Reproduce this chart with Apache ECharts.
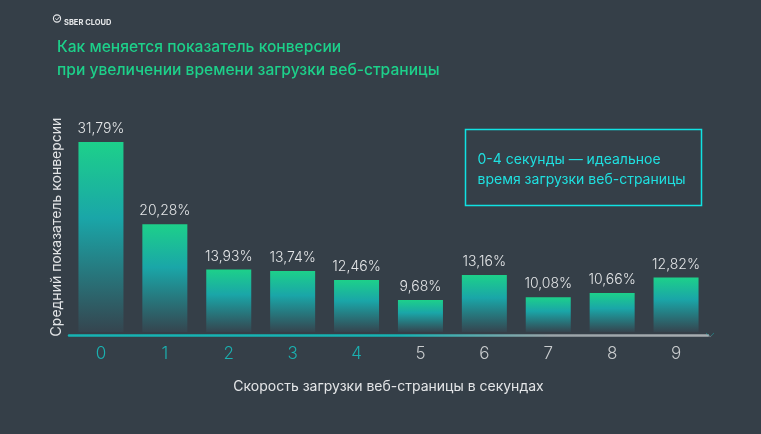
<!DOCTYPE html>
<html lang="ru">
<head>
  <meta charset="UTF-8">
  <title>Показатель конверсии</title>
  <script src="https://cdn.jsdelivr.net/npm/echarts@6/dist/echarts.min.js"></script>
  <style>
    html, body { margin: 0; padding: 0; background: #353f48; }
  </style>
</head>
<body>
<div id="main" style="width:761px;height:434px;"></div>
<script>
  // секунды загрузки
  const seconds = ['0', '1', '2', '3', '4', '5', '6', '7', '8', '9'];
  // средний показатель конверсии, %
  const conversion = [31.79, 20.28, 13.93, 13.74, 12.46, 9.68, 13.16, 10.08, 10.66, 12.82];
  const idealMax = 4; // 0-4 секунды подсвечены

  const fontMain = 'Inter, "Noto Sans", sans-serif';
  const green = '#1dd08a';
  const teal = '#1bb0b0';
  const grey = '#c9ccce';

  let chart = echarts.init(document.getElementById('main'));
  let option = {
    backgroundColor: '#353f48',
    title: [
      {
        text: 'Как меняется показатель конверсии\nпри увеличении времени загрузки веб-страницы',
        left: 52,
        top: 31,
        textStyle: {
          color: green,
          fontFamily: fontMain,
          fontSize: 15.6,
          fontWeight: 500,
          lineHeight: 23
        }
      },
      {
        text: 'SBER CLOUD',
        left: 59,
        top: 14,
        textStyle: {color: '#e6e8ea', fontFamily: fontMain, fontSize: 7.5, fontWeight: 700}
      }
    ],
    graphic: [
      {type: 'circle', shape: {cx: 57, cy: 18.5, r: 3.6}, style: {fill: 'none', stroke: '#e6e8ea', lineWidth: 1.1}},
      {type: 'polyline', shape: {points: [[55.3, 18.5], [56.8, 19.9], [59.5, 17]]}, style: {fill: 'none', stroke: '#e6e8ea', lineWidth: 1}},
      {
        type: 'group',
        left: 463,
        top: 127,
        children: [
          {type: 'rect', shape: {x: 0, y: 0, width: 236, height: 76}, style: {fill: 'none', stroke: '#10e2e2', lineWidth: 1.5}},
          {
            type: 'text',
            x: 12, y: 20,
            style: {
              text: '0-4 секунды — идеальное\nвремя загрузки веб-страницы',
              fill: '#1fe0e0',
              font: '14px ' + fontMain,
              lineHeight: 20
            }
          }
        ]
      }
    ],
    grid: {left: 69, right: 53, top: 142, bottom: 102},
    xAxis: {
      type: 'category',
      data: seconds,
      offset: 3,
      name: 'Скорость загрузки веб-страницы в секундах',
      nameLocation: 'middle',
      nameGap: 45,
      nameTextStyle: {color: '#e3e5e7', fontFamily: fontMain, fontSize: 14},
      axisTick: {show: false},
      axisLine: {
        symbol: ['none', 'path://M0,0 L6,6 L0,12 L1,12 L7,6 L1,0 Z'],
        symbolSize: [5, 8],
        symbolOffset: [0, 2],
        lineStyle: {
          width: 2.5,
          color: {
            type: 'linear', x: 0, y: 0, x2: 1, y2: 0,
            colorStops: [
              {offset: 0, color: '#16b3b3'},
              {offset: 0.52, color: '#16b3b3'},
              {offset: 0.75, color: '#9aa3a8'},
              {offset: 1, color: '#a8adb1'}
            ]
          }
        }
      },
      axisLabel: {
        margin: 10,
        fontFamily: fontMain,
        fontSize: 17,
        fontWeight: 300,
        color: function (value, index) {
          return Number(value) <= idealMax ? teal : grey;
        }
      }
    },
    yAxis: {
      type: 'value',
      min: 5.2,
      max: 31.79,
      name: 'Средний показатель конверсии',
      nameLocation: 'middle',
      nameRotate: 90,
      nameGap: 5,
      nameTextStyle: {color: '#e3e5e7', fontFamily: fontMain, fontSize: 14, padding: [0, 0, 0, 20]},
      axisLine: {show: false},
      axisTick: {show: false},
      axisLabel: {show: false},
      splitLine: {show: false}
    },
    series: [
      {
        type: 'bar',
        data: conversion,
        barWidth: 45,
        itemStyle: {
          color: new echarts.graphic.LinearGradient(0, 0, 0, 1, [
            {offset: 0, color: green},
            {offset: 0.4, color: '#1aa6a8'},
            {offset: 1, color: '#35454f'}
          ])
        },
        label: {
          show: true,
          position: 'top',
          distance: 6,
          color: '#e3e5e7',
          fontFamily: fontMain,
          fontSize: 14,
          fontWeight: 300,
          formatter: function (p) {
            return p.value.toFixed(2).replace('.', ',') + '%';
          }
        }
      }
    ]
  };
  chart.setOption(option);
</script>
</body>
</html>
